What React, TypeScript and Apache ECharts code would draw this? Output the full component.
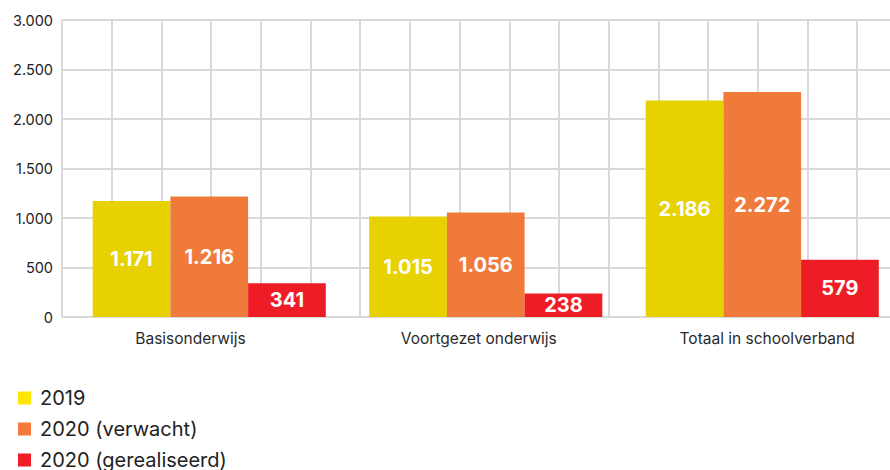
import React, { useEffect, useRef } from "react";
import * as echarts from "echarts";

const categories = ["Basisonderwijs", "Voortgezet onderwijs", "Totaal in schoolverband"];
const seriesNames = ["2019", "2020 (verwacht)", "2020 (gerealiseerd)"];
const values2019 = [1171, 1015, 2186];
const values2020Expected = [1216, 1056, 2272];
const values2020Realised = [341, 238, 579];
const yMin = 0;
const yMax = 3000;
const yInterval = 500;

const barColors = ["#E8D100", "#F07A3A", "#EE1D25"];
const legendColors = ["#FFE600", "#F47B3C", "#EE1D27"];

const FONT = "Inter";

const fmt = (v: number) => String(v).replace(/\B(?=(\d{3})+(?!\d))/g, ".");

export default function App() {
  const ref = useRef<HTMLDivElement>(null);
  useEffect(() => {
    if (!ref.current) return;
    const chart = echarts.init(ref.current, null, { renderer: "svg" });
    const seriesData = [values2019, values2020Expected, values2020Realised];
    const gridLine = { show: true, lineStyle: { color: "#d9d9d9", width: 2 } };
    chart.setOption({
      animation: false,
      backgroundColor: "#ffffff",
      textStyle: { fontFamily: FONT },
      grid: [
        { left: 62, top: 20, width: 830, height: 297, outerBoundsMode: "none" },
        { left: 71, top: 20, width: 829.5, height: 297, outerBoundsMode: "none" },
        { left: 46.3, top: 20, width: 865, height: 297, outerBoundsMode: "none" },
      ],
      xAxis: [
        {
          type: "value",
          gridIndex: 0,
          min: 0,
          max: 830 / 49.7,
          interval: 1,
          axisLine: { show: false },
          axisTick: { show: false },
          axisLabel: { show: false },
          splitLine: gridLine,
        },
        {
          type: "category",
          gridIndex: 1,
          data: categories,
          axisLine: { show: false },
          axisTick: { show: false },
          axisLabel: { show: false },
          splitLine: { show: false },
        },
        {
          type: "category",
          gridIndex: 2,
          data: categories,
          axisLine: { show: false },
          axisTick: { show: false },
          splitLine: { show: false },
          axisLabel: { color: "#2a2a2a", fontSize: 15.5, fontFamily: FONT, margin: 13 },
        },
      ],
      yAxis: [
        {
          type: "value",
          gridIndex: 0,
          min: yMin,
          max: yMax,
          interval: yInterval,
          axisLine: { show: false },
          axisTick: { show: false },
          splitLine: gridLine,
          axisLabel: {
            color: "#222222",
            fontSize: 14.5,
            fontFamily: FONT,
            margin: 9,
            formatter: (v: number) => fmt(v),
            padding: [0, 0, 6, 0],
          },
        },
        {
          type: "value",
          gridIndex: 1,
          min: yMin,
          max: yMax,
          interval: yInterval,
          show: false,
        },
        {
          type: "value",
          gridIndex: 2,
          min: yMin,
          max: yMax,
          interval: yInterval,
          show: false,
        },
      ],
      legend: {
        orient: "vertical",
        left: 18,
        top: 388,
        padding: 0,
        itemWidth: 13,
        itemHeight: 13,
        itemGap: 11,
        icon: "rect",
        textStyle: { fontSize: 20, color: "#222222", fontFamily: FONT, lineHeight: 20, padding: [0, 0, 0, 4] },
        data: seriesNames.map((n, i) => ({ name: n, itemStyle: { color: legendColors[i] } })),
      },
      series: seriesNames.map((name, i) => ({
        name,
        type: "bar",
        xAxisIndex: 1,
        yAxisIndex: 1,
        data: seriesData[i],
        barWidth: 77.7,
        barGap: "0%",
        itemStyle: { color: barColors[i] },
        label: {
          show: true,
          position: "inside",
          color: "#ffffff",
          fontSize: 20,
          fontWeight: "bold",
          fontFamily: FONT,
          formatter: (p: any) => fmt(p.value),
        },
      })),
    });
    return () => chart.dispose();
  }, []);
  return (
    <div
      ref={ref}
      style={{ position: "fixed", left: 0, top: 0, width: 890, height: 520 }}
    />
  );
}
